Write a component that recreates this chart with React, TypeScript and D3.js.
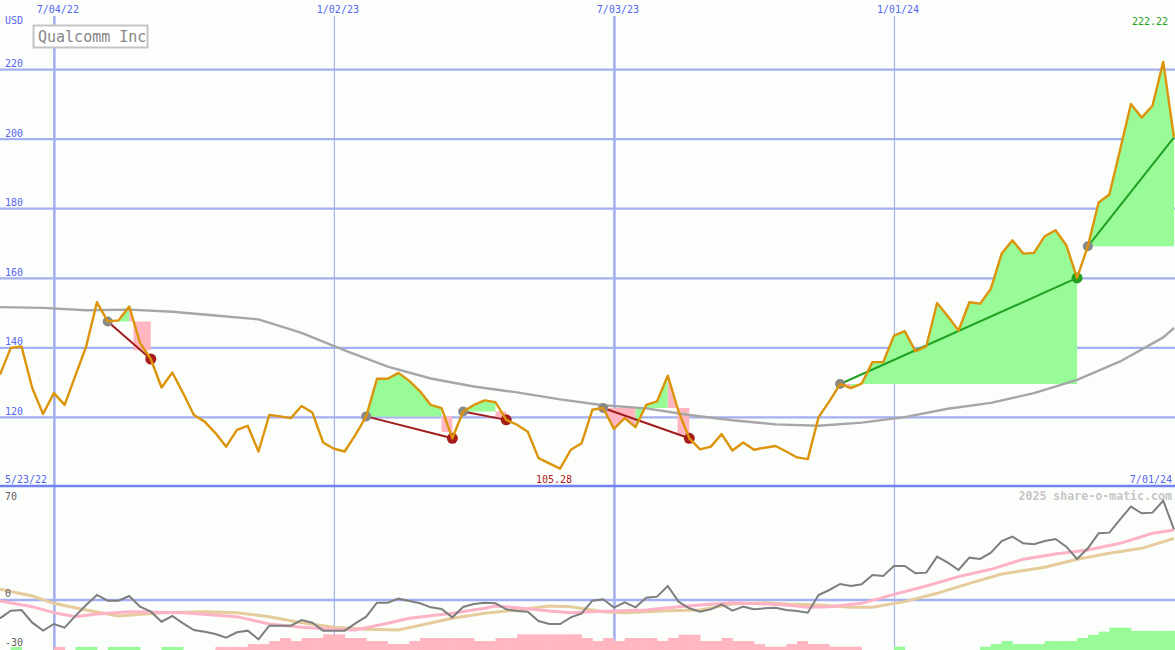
import * as d3 from 'd3'

const W = 1175
const H = 650
const FONT = '"DejaVu Sans Mono", "Liberation Mono", monospace'

// weekly closes, first bar 5/30/22, last bar 7/01/24
const closes = [
  132.3, 140.0, 140.4, 128.4, 121.0, 127.0, 123.6, 132.0, 140.4, 153.1,
  147.6, 147.9, 151.9, 141.4, 136.8, 128.6, 132.9, 127.0, 120.7, 118.8,
  115.5, 111.6, 116.4, 117.6, 110.2, 120.7, 120.3, 119.8, 123.3, 121.4,
  112.8, 111.0, 110.2, 115.0, 120.3, 131.1, 131.1, 132.8, 130.5, 127.5,
  123.6, 122.7, 114.0, 121.7, 123.6, 124.9, 124.4, 119.3, 117.9, 115.9,
  108.3, 106.8, 105.28, 110.7, 112.6, 122.2, 122.7, 116.7, 119.8, 117.2,
  123.6, 124.6, 132.0, 121.7, 114.0, 110.8, 111.6, 115.2, 110.5, 112.8,
  110.7, 111.3, 111.8, 110.2, 108.5, 108.0, 120.1, 124.6, 129.6, 128.4,
  129.7, 135.9, 135.9, 143.5, 144.8, 139.0, 140.4, 152.9, 149.1, 145.0,
  153.1, 152.7, 157.0, 167.1, 170.9, 167.1, 167.3, 172.1, 173.8, 169.5,
  160.1, 169.2, 181.8, 184.1, 197.0, 210.1, 206.2, 209.6, 222.22, 200.5,
]

// long moving average, read at a few weeks
const maWeeks = [0, 4, 8, 12, 16, 20, 24, 28, 32, 36, 40, 44, 48, 52, 56, 60, 64, 68, 72, 76, 80, 84, 88, 92, 96, 100, 104, 108, 109]
const maValues = [151.7, 151.5, 150.8, 151.0, 150.4, 149.3, 148.2, 144.3, 139.3, 134.6, 131.2, 128.9, 127.2, 125.2, 123.5, 122.6, 120.7, 119.2, 118.0, 117.6, 118.5, 120.1, 122.5, 124.2, 127.0, 130.8, 136.1, 143.0, 145.7]

// oscillator panel
const osc = [
  -11, -6.4, -6, -13.6, -18.4, -14.4, -16.6, -9.5, -3, 3,
  -0.4, -0.4, 2.4, -4, -7, -13, -9.6, -14, -18, -19,
  -20.4, -22.6, -19.4, -18.4, -23.6, -15.4, -15.4, -15.4, -12, -13.6,
  -18.4, -18.4, -18.4, -14, -10, -1.6, -1.6, 0.8, -0.6, -2,
  -4.4, -5.4, -10.4, -4.2, -2.4, -1.6, -2, -5.6, -6.6, -7,
  -12.6, -14.4, -14.4, -10.4, -8, -0.4, 0.4, -4.6, -1.4, -4.4,
  1.4, 2, 8.4, -1, -5, -7, -5.6, -2.6, -6.4, -4,
  -5.6, -5, -4.6, -6, -6.6, -7.6, 3, 6, 9.6, 8.4,
  9.4, 15, 14.4, 20.4, 20.4, 16, 16.4, 26, 22.4, 18,
  25.4, 24.6, 28.4, 35.4, 38, 34, 33.4, 35.4, 36.6, 32,
  24.6, 31, 40, 40.4, 48.4, 56, 52, 52.4, 59.6, 42.4,
]
const pinkWeeks = [0, 3, 5, 7, 9, 12, 17, 22, 25, 28, 31, 33, 36, 38, 42, 45, 46, 48, 51, 53, 55, 57, 60, 62, 65, 68, 71, 73, 75, 77, 80, 83, 86, 89, 92, 95, 98, 101, 104, 107, 109]
const pinkValues = [-0.6, -4, -7.6, -10, -8.4, -7, -7.6, -10, -14.4, -16.4, -17.6, -18, -14, -11, -8, -5, -3.6, -4.6, -6.6, -7.6, -7, -6.6, -6, -4.6, -3, -1.6, -2.4, -3, -4.4, -4, -2, 3.4, 8.4, 14, 18.4, 24.4, 27.6, 30, 34, 40, 42]
const tanWeeks = [0, 3, 5, 8, 11, 15, 19, 22, 25, 28, 31, 34, 37, 42, 45, 48, 51, 53, 56, 58, 62, 65, 68, 71, 73, 76, 79, 81, 84, 87, 90, 93, 97, 100, 103, 106, 109]
const tanValues = [6.4, 2.4, -2, -6, -9.6, -7.6, -7, -7.6, -10, -13.6, -16.4, -17.6, -18, -11, -8, -6, -3.6, -4, -7, -7.6, -6.4, -6, -2.4, -1.6, -2.4, -3, -4.4, -4.4, -1, 4, 10, 15.6, 19.6, 24.4, 28, 31, 37]
// histogram along the panel floor, + green / - pink
const hist = [
  0, 1.8, 0, 0, 0, -1.8, 0, 1.8, 1.8, 0,
  1.8, 1.8, 1.8, 0, 0, 1.8, 1.8, 0, 0, 0,
  -1.8, -1.8, -1.8, -3.6, -3.6, -5.4, -7.2, -5.4, -7.2, -7.2,
  -9.4, -9.4, -7.2, -7.2, -5.4, -5.4, -3.6, -3.6, -5.4, -7.2,
  -7.2, -7.2, -7.2, -7.2, -5.4, -5.4, -7.2, -7.2, -9.4, -9.4,
  -9.4, -9.4, -9.4, -9.4, -7.2, -5.4, -7.2, -5.4, -7.2, -7.2,
  -7.2, -5.4, -7.2, -9.2, -9.2, -5.4, -5.4, -7.2, -5.4, -5.4,
  -3.6, -2, -2, -3.6, -5.4, -3.6, -3.6, -2, -2, -2,
  0, 0, 0, 2, 0, 0, 0, 0, 0, 0,
  0, 2, 3.6, 5.4, 3.6, 3.6, 3.6, 5.4, 5.4, 5.4,
  7.2, 9, 11, 13.4, 13.4, 11.4, 11.4, 11.4, 11.4, 11.4,
]

// trend runs
const trendFrom = [10, 34, 43, 56, 78, 101]
const trendTo = [14, 42, 47, 64, 100, 109]
const trendUp = [false, false, false, false, true, true]
const trendDone = [true, true, true, true, true, false]
// [segment, from week, to week] where the band follows the weekly close
const gainRuns = [[0, 10, 12], [1, 34, 41], [2, 43, 46], [3, 59, 62], [4, 79, 100], [5, 101, 109]]
const lossRuns = [[3, 56, 59], [4, 78, 79]]
// [segment, start week, end week, low] pink steps at the end of falling runs
const lossSteps = [[0, 12.4, 14, 139.3], [1, 41, 42, 115.8], [2, 46, 47, 119.6], [3, 62.9, 64, 115.0]]

const dateLabels = ['7/04/22', '1/02/23', '7/03/23', '1/01/24']
const dateWeeks = [5, 31, 57, 83]
const dateMajor = [true, false, true, false]
const priceTicks = [120, 140, 160, 180, 200, 220]

const GREEN_FILL = '#98fb98'
const PINK_FILL = '#ffb6c1'
const GRID = '#a4b0f0'
const BLUE_TEXT = '#5465f0'

type Pt = [number, number]

export default function App() {
  const x = d3.scaleLinear().domain([0, closes.length - 1]).range([0, 1174])
  const yP = d3.scaleLinear().domain([100, 240]).range([487, 0])
  const yO = d3.scaleLinear().domain([-30, 70]).range([650, 483.3])
  const step = x(1) - x(0)

  const priceLine = d3.line<number>().x((_, i) => x(i)).y(d => yP(d))
  const ptLine = d3.line<Pt>().x(d => x(d[0])).y(d => yP(d[1]))
  const oscLine = d3.line<Pt>().x(d => x(d[0])).y(d => yO(d[1]))

  const level = (seg: number) => closes[trendFrom[seg]]
  const run = (seg: number, a: number, b: number): Pt[] => {
    const L = level(seg)
    const pts: Pt[] = [[a, L]]
    for (let i = a; i <= b; i++) pts.push([i, closes[i]])
    pts.push([b, L])
    return pts
  }
  const stepShape = (seg: number, a: number, b: number, low: number): Pt[] => {
    const L = level(seg)
    const w0 = Math.floor(a)
    return [[w0, closes[w0]], [a, L], [a, low], [b, low], [b, L], [w0, L]]
  }

  const lowIdx = d3.minIndex(closes)
  const highIdx = d3.maxIndex(closes)

  const txt = { fontFamily: FONT, fontSize: 10 }

  return (
    <svg width={W} height={H} style={{ position: 'absolute', left: 0, top: 0, background: '#fcfefc' }}>
      <rect x={0} y={0} width={W} height={H} fill="#fcfefc" />

      {/* grid */}
      {priceTicks.map(v => (
        <line key={v} x1={0} x2={W} y1={yP(v)} y2={yP(v)} stroke={GRID} strokeWidth={2.3} />
      ))}
      <line x1={0} x2={W} y1={yO(0)} y2={yO(0)} stroke={GRID} strokeWidth={2.3} />
      {dateWeeks.map((w, i) => (
        <line key={w} x1={x(w) + 0.5} x2={x(w) + 0.5} y1={16} y2={H}
          stroke={GRID} strokeWidth={dateMajor[i] ? 2.6 : 1.2} />
      ))}

      {/* shaded runs */}
      {gainRuns.map(([s, a, b], i) => (
        <path key={'g' + i} d={ptLine(run(s, a, b)) + 'Z'} fill={GREEN_FILL} />
      ))}
      {lossRuns.map(([s, a, b], i) => (
        <path key={'l' + i} d={ptLine(run(s, a, b)) + 'Z'} fill={PINK_FILL} />
      ))}
      {lossSteps.map(([s, a, b, low], i) => (
        <path key={'s' + i} d={ptLine(stepShape(s, a, b, low)) + 'Z'} fill={PINK_FILL} />
      ))}

      {/* moving average */}
      <path d={ptLine(maWeeks.map((w, i) => [w, maValues[i]] as Pt)) ?? ''}
        fill="none" stroke="#a6a6a6" strokeWidth={2.4} />

      {/* trend lines and markers */}
      {trendFrom.map((a, i) => (
        <line key={'t' + i} x1={x(a)} y1={yP(closes[a])} x2={x(trendTo[i])} y2={yP(closes[trendTo[i]])}
          stroke={trendUp[i] ? '#22a022' : '#a01c1c'} strokeWidth={2} />
      ))}
      {trendFrom.map((a, i) => (
        <circle key={'c' + i} cx={x(a)} cy={yP(closes[a])} r={5} fill="#888888" />
      ))}
      {trendTo.map((b, i) => trendDone[i] ? (
        <circle key={'e' + i} cx={x(b)} cy={yP(closes[b])} r={5.5}
          fill={trendUp[i] ? '#22a022' : '#a81c1c'} />
      ) : null)}

      {/* price */}
      <path d={priceLine(closes) ?? ''} fill="none" stroke="#dc940a" strokeWidth={2.4} strokeLinejoin="round" />

      {/* panel divider */}
      <line x1={0} x2={W} y1={486} y2={486} stroke="#7282f0" strokeWidth={2.5} />

      {/* lower panel */}
      {hist.map((v, i) => v === 0 ? null : (
        <rect key={'h' + i} x={x(i)} width={step + 0.4} y={yO(-30 + Math.abs(v))}
          height={yO(-30) - yO(-30 + Math.abs(v))} fill={v > 0 ? GREEN_FILL : PINK_FILL} />
      ))}
      <path d={oscLine(tanWeeks.map((w, i) => [w, tanValues[i]] as Pt)) ?? ''}
        fill="none" stroke="#e6cc9c" strokeWidth={3} />
      <path d={oscLine(pinkWeeks.map((w, i) => [w, pinkValues[i]] as Pt)) ?? ''}
        fill="none" stroke="#fdb2c6" strokeWidth={3} />
      <path d={oscLine(osc.map((v, i) => [i, v] as Pt)) ?? ''}
        fill="none" stroke="#7e7e7e" strokeWidth={2} />

      {/* labels */}
      {dateLabels.map((t, i) => (
        <text key={t} x={x(dateWeeks[i]) + 4} y={13} textAnchor="middle" fill={BLUE_TEXT} {...txt}>{t}</text>
      ))}
      <text x={5} y={24} fill={BLUE_TEXT} {...txt}>USD</text>
      {priceTicks.map(v => (
        <text key={'p' + v} x={5} y={yP(v) - 2.5} fill={BLUE_TEXT} {...txt}>{v}</text>
      ))}
      <rect x={33.5} y={25.5} width={114} height={22} fill="#ffffff" stroke="#c4c4c4" strokeWidth={2} />
      <text x={38} y={41.5} fill="#868686" fontFamily={FONT} fontSize={15}>Qualcomm Inc</text>
      <text x={1168} y={25} textAnchor="end" fill="#22a022" {...txt}>{closes[highIdx].toFixed(2)}</text>
      <text x={x(lowIdx) - 6} y={483} textAnchor="middle" fill="#b01818" {...txt}>{closes[lowIdx].toFixed(2)}</text>
      <text x={5} y={483} fill={BLUE_TEXT} {...txt}>5/23/22</text>
      <text x={1172} y={483} textAnchor="end" fill={BLUE_TEXT} {...txt}>7/01/24</text>
      <text x={1172} y={500} textAnchor="end" fill="#c6c6c6" fontFamily={FONT} fontSize={11.6} fontWeight="bold">2025 share-o-matic.com</text>
      <text x={5} y={500} fill="#606060" {...txt}>70</text>
      <text x={5} y={597} fill="#606060" {...txt}>0</text>
      <text x={5} y={646} fill="#606060" {...txt}>-30</text>
    </svg>
  )
}
